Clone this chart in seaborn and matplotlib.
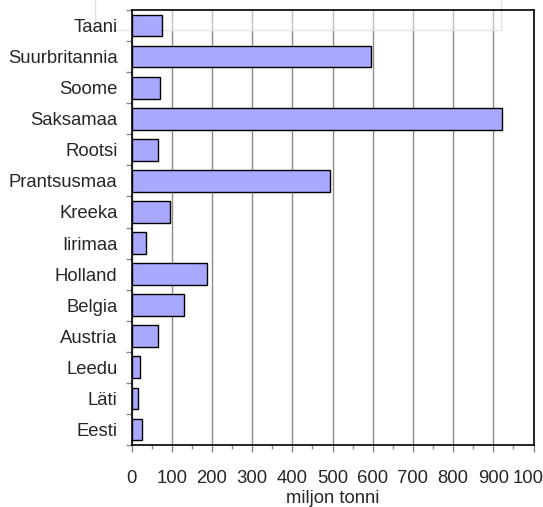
import matplotlib
matplotlib.use("Agg")
import matplotlib.pyplot as plt
from matplotlib.patches import Rectangle
from matplotlib.ticker import MultipleLocator, FixedLocator
import seaborn as sns
import pandas as pd
import numpy as np

# Countries (top to bottom) and amounts in million tonnes
countries = ["Taani", "Suurbritannia", "Soome", "Saksamaa", "Rootsi",
             "Prantsusmaa", "Kreeka", "Iirimaa", "Holland", "Belgia",
             "Austria", "Leedu", "Läti", "Eesti"]
values = [75, 597, 71, 922, 67, 495, 96, 37, 188, 131, 67, 21, 17, 27]
x_ticks = [0, 100, 200, 300, 400, 500, 600, 700, 800, 900, 1000]
x_label = "miljon tonni"

df = pd.DataFrame({"riik": countries, "kogus": values})

sns.set_style("white")
plt.rcParams["font.family"] = ["Liberation Sans", "DejaVu Sans"]

W, H = 543, 507
fig = plt.figure(figsize=(W / 100, H / 100), dpi=100)
ax_l, ax_r, ax_t, ax_b = 131.5, 533.5, 10, 445
ax = fig.add_axes([ax_l / W, (H - ax_b) / H, (ax_r - ax_l) / W, (ax_b - ax_t) / H])

ax.xaxis.grid(True, color="#8c8c8c", linewidth=1.0)
ax.set_axisbelow(True)
ax.yaxis.set_zorder(2)

sns.barplot(data=df, x="kogus", y="riik", orient="h", order=countries,
            color="#A8A8FF", saturation=1, width=0.7,
            edgecolor="black", linewidth=1.0, ax=ax)

ax.set_xlim(0, 1000)
ax.set_ylim(len(countries) - 0.5, -0.5)
ax.set_xticks(x_ticks)
ax.set_xticklabels([str(t) for t in x_ticks])
ax.xaxis.set_minor_locator(MultipleLocator(50))
ax.yaxis.set_minor_locator(FixedLocator(np.arange(-0.5, len(countries), 1.0)))

ax.tick_params(axis="x", which="major", length=5, width=1, color="#888888",
               labelsize=13.3, pad=13, direction="out", bottom=True)
ax.tick_params(axis="x", which="minor", length=3, width=1, color="#888888",
               bottom=True)
ax.tick_params(axis="y", which="major", length=0, labelsize=13.3, pad=10)
ax.tick_params(axis="y", which="minor", length=4, width=1, color="#888888",
               left=True)

ax.set_xlabel(x_label, fontsize=13.3, labelpad=2)
ax.set_ylabel("")

for side in ["left", "right", "top", "bottom"]:
    ax.spines[side].set_visible(True)
    ax.spines[side].set_color("black")
    ax.spines[side].set_linewidth(1.2)

# Faint empty frame along the top edge, behind the bars
bx0, bx1, by1 = 95, 501, 30
frame = Rectangle((bx0 / W, (H - by1) / H), (bx1 - bx0) / W, by1 / H + 0.01,
                  transform=fig.transFigure, facecolor=(1, 1, 1, 0.45),
                  edgecolor="#e4e4e4", linewidth=1, clip_on=False, zorder=0.8)
ax.add_artist(frame)

fig.savefig("out.png", dpi=100)
